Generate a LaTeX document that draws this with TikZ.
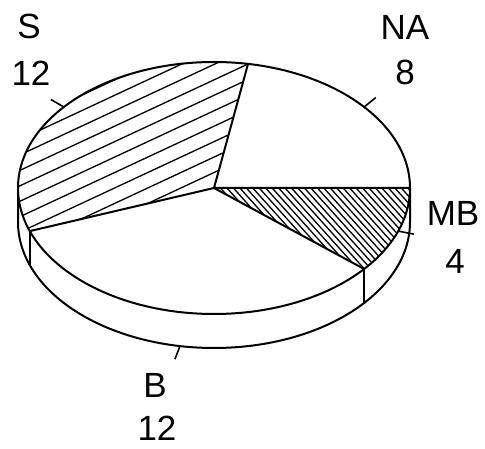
\documentclass[tikz,border=0pt]{standalone}
\usepackage{fontspec}
\setmainfont{Liberation Sans}
\usetikzlibrary{calc}

\begin{document}
\begin{tikzpicture}[x=1pt, y=1pt, line width=2pt, line join=round,
	hatch/.style={line width=1.3pt},
	tick/.style={line width=1.6pt},
	lbl/.style={font=\fontsize{35}{35}\selectfont, inner sep=0pt}]
	
	\useasboundingbox (0,0) rectangle (485,449);
	
	% Centre and rim points
	\coordinate (O) at (214,261);
	\coordinate (e0) at ($(O)+(0:196pt and 126pt)$);
	\coordinate (e80) at ($(O)+(80:196pt and 126pt)$);
	\coordinate (e180) at ($(O)+(180:196pt and 126pt)$);
	\coordinate (e200) at ($(O)+(200:196pt and 126pt)$);
	\coordinate (e320) at ($(O)+(320:196pt and 126pt)$);
	
	% Side of the pie
	\draw[fill=white] (e180) -- ++(0,-34) arc[start angle=180, end angle=360, x radius=196pt, y radius=126pt] -- (e0);
	\draw (e200) -- ++(0,-34);
	\draw (e320) -- ++(0,-34);
	
	% Top face
	\fill[white] (O) ellipse[x radius=196pt, y radius=126pt];
	
	% S hatching
	\begin{scope}
		\clip (O) -- (e80) arc[start angle=80, end angle=200, x radius=196pt, y radius=126pt] -- cycle;
		\foreach \k in {-20,...,20}
			\draw[hatch, shift={(O)}, rotate=25] (-300,\k*14) -- (300,\k*14);
	\end{scope}
	
	% MB hatching
	\begin{scope}
		\clip (O) -- (e320) arc[start angle=320, end angle=360, x radius=196pt, y radius=126pt] -- cycle;
		\foreach \k in {-60,...,60}
			\draw[hatch, shift={(O)}, rotate=-48] (-300,\k*4.8) -- (300,\k*4.8);
	\end{scope}
	
	% Outline of the slices
	\draw (O) ellipse[x radius=196pt, y radius=126pt];
	\draw (e80) -- (O) -- (e0);
	\draw (e200) -- (O) -- (e320);
	
	% Ticks
	\draw[tick] ($(O)+(140:196pt and 126pt)$) -- ++(150:15);
	\draw[tick] ($(O)+(40:196pt and 126pt)$) -- ++(39:15);
	\draw[tick] ($(O)+(340:196pt and 126pt)$) -- ++(-11:16);
	\draw[tick] ($(O)+(260:196pt and 126pt)+(0,-34)$) -- ++(249:14);
	
	% Labels
	\node[lbl] (lS) at (29,423) {S};
	\node[lbl] (nS) at (31,376) {12};
	\node[lbl] (lNA) at (405,422) {NA};
	\node[lbl] (nNA) at (405,377) {8};
	\node[lbl] (lMB) at (453,236) {MB};
	\node[lbl] (nMB) at (455,188) {4};
	\node[lbl] (lB) at (155,64) {B};
	\node[lbl] (nB) at (157,21) {12};
	
\end{tikzpicture}
\end{document}
